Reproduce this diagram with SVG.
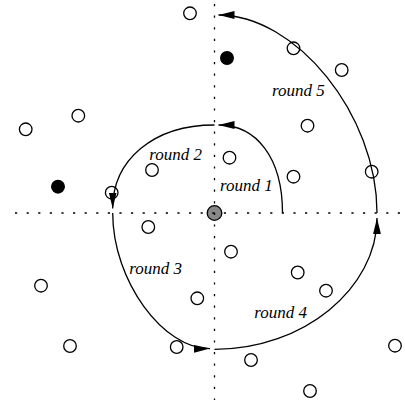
<svg xmlns="http://www.w3.org/2000/svg" width="405" height="407" viewBox="0 0 405 407">
  <style>
    .pt { fill: none; stroke: #000; stroke-width: 1.3; }
    .hit { fill: #000; stroke: #000; stroke-width: 1.3; }
    .src { fill: #888; stroke: #000; stroke-width: 1.3; }
    .axis { stroke: #000; stroke-width: 1.3; stroke-dasharray: 2.2 9.4; fill: none; }
    .arc { fill: none; stroke: #000; stroke-width: 1.3; marker-end: url(#head); }
    .lbl { font-family: "Liberation Serif", "Times New Roman", serif; font-style: italic; font-size: 17px; fill: #000; }
  </style>
  <defs>
    <marker id="head" markerUnits="userSpaceOnUse" markerWidth="17" markerHeight="8" refX="16" refY="3.9" orient="auto">
      <path d="M0,0 L16,3.9 L0,7.8 z" fill="#000"/>
    </marker>
  </defs>
  <rect width="405" height="407" fill="#fff"/>

  <!-- sample points -->
  <g id="p01"><circle class="pt" cx="190" cy="13.3" r="6.3"/></g>
  <g id="p02"><circle class="hit" cx="227" cy="58" r="6.3"/></g>
  <g id="p03"><circle class="pt" cx="293.5" cy="48.3" r="6.3"/></g>
  <g id="p04"><circle class="pt" cx="341.7" cy="70" r="6.3"/></g>
  <g id="p05"><circle class="pt" cx="78.3" cy="115.7" r="6.3"/></g>
  <g id="p06"><circle class="pt" cx="25.7" cy="129.3" r="6.3"/></g>
  <g id="p07"><circle class="pt" cx="307.5" cy="125.7" r="6.3"/></g>
  <g id="p08"><circle class="pt" cx="229.5" cy="157.7" r="6.3"/></g>
  <g id="p09"><circle class="pt" cx="152" cy="170" r="6.3"/></g>
  <g id="p10"><circle class="pt" cx="293.5" cy="176.7" r="6.3"/></g>
  <g id="p11"><circle class="pt" cx="371.7" cy="171.7" r="6.3"/></g>
  <g id="p12"><circle class="hit" cx="58" cy="186.7" r="6.3"/></g>
  <g id="p13"><circle class="pt" cx="111.7" cy="192.7" r="6.3"/></g>
  <g id="p14"><circle class="pt" cx="148.3" cy="227" r="6.3"/></g>
  <g id="p15"><circle class="pt" cx="231" cy="251.7" r="6.3"/></g>
  <g id="p16"><circle class="pt" cx="297.7" cy="272.5" r="6.3"/></g>
  <g id="p17"><circle class="pt" cx="326" cy="290.7" r="6.3"/></g>
  <g id="p18"><circle class="pt" cx="41" cy="285.7" r="6.3"/></g>
  <g id="p19"><circle class="pt" cx="197.3" cy="298.3" r="6.3"/></g>
  <g id="p20"><circle class="pt" cx="70" cy="346" r="6.3"/></g>
  <g id="p21"><circle class="pt" cx="176.7" cy="347" r="6.3"/></g>
  <g id="p22"><circle class="pt" cx="251" cy="360" r="6.3"/></g>
  <g id="p23"><circle class="pt" cx="395" cy="345.7" r="6.3"/></g>
  <g id="p24"><circle class="pt" cx="310" cy="391" r="6.3"/></g>
  <g id="origin"><circle class="src" cx="214.5" cy="213" r="7.3"/></g>

  <!-- dotted axes through the origin -->
  <g id="axes">
    <line class="axis" x1="15" y1="213" x2="405" y2="213"/>
    <line class="axis" x1="214.5" y1="4" x2="214.5" y2="400"/>
  </g>

  <!-- spiral search, one segment per round -->
  <g id="connectors">
    <path id="r1" class="arc" d="M282.5,213 C282.5,158 256.7,125 218.5,125"/>
    <path id="r2" class="arc" d="M214.5,125 C153.4,125 112.7,160 112.7,208.5"/>
    <path id="r3" class="arc" d="M112.7,213 C112.7,281 163.6,349.3 210,348.6"/>
    <path id="r4" class="arc" d="M214.5,349.3 C303.9,349.3 377,288 377,218"/>
    <path id="r5" class="arc" d="M377,213 C377,114 295.75,15 218.5,15"/>
  </g>

  <g id="labels">
    <text class="lbl" x="220" y="191">round 1</text>
    <text class="lbl" x="149.3" y="160">round 2</text>
    <text class="lbl" x="129.3" y="273.5">round 3</text>
    <text class="lbl" x="254.3" y="318.3">round 4</text>
    <text class="lbl" x="272" y="96">round 5</text>
  </g>
</svg>
